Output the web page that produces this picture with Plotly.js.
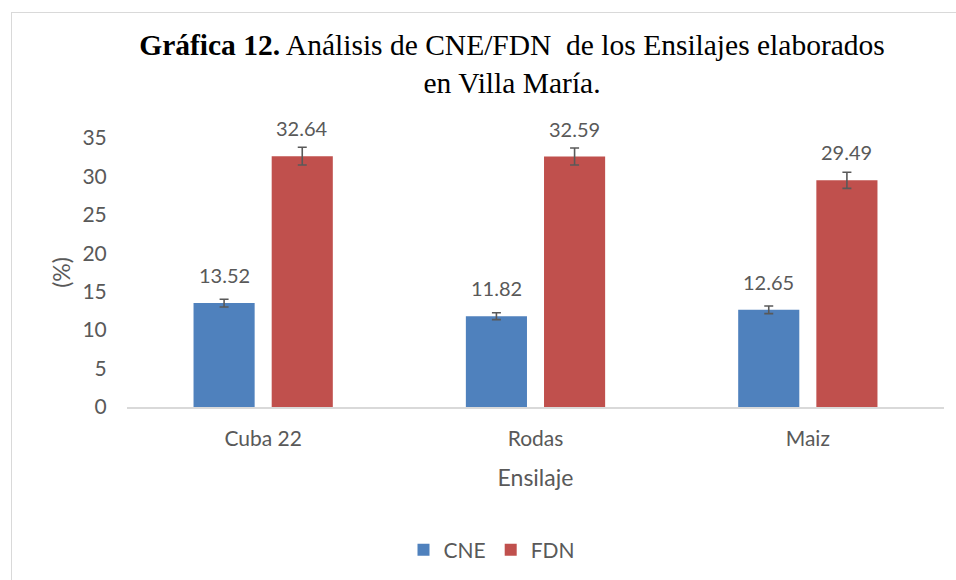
<!DOCTYPE html>
<html>
<head>
<meta charset="utf-8">
<script src="https://cdn.plot.ly/plotly-3.0.1.min.js"></script>
<style>
  html, body { margin: 0; padding: 0; background: #ffffff; overflow: hidden; }
  #chart { width: 956px; height: 580px; position: absolute; left: 0; top: 0; }
  #frame { position: absolute; left: 11px; top: 12px; width: 1200px; height: 1200px;
           border: 1.5px solid #d9d9d9; pointer-events: none; box-sizing: border-box; }
</style>
</head>
<body>
<div id="chart"></div>
<div id="frame"></div>
<script>
const categories = ["Cuba 22", "Rodas", "Maiz"];
const cneValues = [13.52, 11.82, 12.65];
const fdnValues = [32.64, 32.59, 29.49];
const cneErrors = [0.5, 0.45, 0.5];
const fdnErrors = [1.15, 1.1, 1.05];
const seriesNames = ["CNE", "FDN"];
const yTickValues = [0, 5, 10, 15, 20, 25, 30, 35];

const gray = "#595959";
const sansFont = "Lato, 'Open Sans', sans-serif";

const traces = [
  {
    type: "bar", name: seriesNames[0], x: categories, y: cneValues,
    marker: { color: "#4F81BD" },
    error_y: { type: "data", array: cneErrors, visible: true, color: gray, thickness: 1.6, width: 4.5 },
    hoverinfo: "skip"
  },
  {
    type: "bar", name: seriesNames[1], x: categories, y: fdnValues,
    marker: { color: "#C0504D" },
    error_y: { type: "data", array: fdnErrors, visible: true, color: gray, thickness: 1.6, width: 4.5 },
    hoverinfo: "skip"
  }
];

// value labels above bars
const annotations = [];
const offsets = [-39, 39];
[cneValues, fdnValues].forEach((vals, s) => {
  vals.forEach((v, i) => {
    annotations.push({
      x: categories[i], y: v, xref: "x", yref: "y",
      text: v.toFixed(2), showarrow: false,
      xshift: offsets[s], yshift: 14, yanchor: "bottom",
      font: { family: sansFont, size: 20, color: gray }
    });
  });
});

const layout = {
  width: 956, height: 580,
  margin: { l: 127, r: 12, t: 138, b: 173 },
  paper_bgcolor: "#ffffff", plot_bgcolor: "#ffffff",
  barmode: "group", bargap: 0.426, bargroupgap: 0.218,
  showlegend: true,
  legend: {
    orientation: "h", x: 492 / 956, xref: "container", xanchor: "center",
    y: 30 / 580, yref: "container", yanchor: "middle",
    font: { family: sansFont, size: 21, color: gray },
    itemclick: false, itemdoubleclick: false
  },
  title: {
    text: "<b>Gráfica 12.</b> Análisis de CNE/FDN\u00a0 de los Ensilajes elaborados<br>en Villa María.",
    font: { family: "'Liberation Serif', 'Times New Roman', serif", size: 29.5, color: "#000000" },
    x: 512 / 956, xref: "container", xanchor: "center",
    y: 1 - 55 / 580, yref: "container", yanchor: "top"
  },
  xaxis: {
    type: "category",
    showline: true, linecolor: "#d9d9d9", linewidth: 1.5,
    showgrid: false, zeroline: false,
    ticks: "outside", ticklen: 12, tickcolor: "rgba(0,0,0,0)",
    tickfont: { family: sansFont, size: 21, color: gray },
    title: { text: "Ensilaje", font: { family: sansFont, size: 23, color: gray }, standoff: 21 },
    fixedrange: true
  },
  yaxis: {
    range: [0, 35], tickvals: yTickValues,
    showline: false, showgrid: false, zeroline: false,
    ticks: "outside", ticklen: 15, tickcolor: "rgba(0,0,0,0)",
    tickfont: { family: sansFont, size: 21, color: gray },
    title: { text: "(%)", font: { family: sansFont, size: 23, color: gray }, standoff: 5 },
    fixedrange: true
  },
  annotations: annotations
};

Plotly.newPlot("chart", traces, layout, { displayModeBar: false, staticPlot: true });
</script>
</body>
</html>
